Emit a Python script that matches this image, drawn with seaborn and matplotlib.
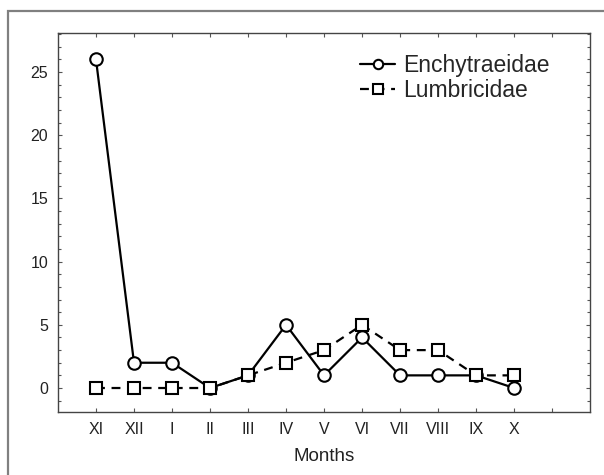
import numpy as np
import pandas as pd
import matplotlib
matplotlib.use("Agg")
import matplotlib.pyplot as plt
import seaborn as sns
from matplotlib.patches import Rectangle
from matplotlib.ticker import MultipleLocator, FixedLocator

# Data
months = ["XI", "XII", "I", "II", "III", "IV", "V", "VI", "VII", "VIII", "IX", "X"]
enchytraeidae = [26, 2, 2, 0, 1, 5, 1, 4, 1, 1, 1, 0]
lumbricidae = [0, 0, 0, 0, 1, 2, 3, 5, 3, 3, 1, 1]

idx = list(range(len(months)))
df = pd.concat([
    pd.DataFrame({"pos": idx, "value": enchytraeidae, "group": "Enchytraeidae"}),
    pd.DataFrame({"pos": idx, "value": lumbricidae, "group": "Lumbricidae"}),
])

sns.set_style("white")
plt.rcParams["font.family"] = ["Liberation Sans", "DejaVu Sans"]

fig = plt.figure(figsize=(6.04, 4.75), dpi=100)
ax = fig.add_axes([0.096, 0.1326, 0.881, 0.798])

sns.lineplot(data=df, x="pos", y="value", style="group",
             markers={"Enchytraeidae": "o", "Lumbricidae": "s"},
             dashes={"Enchytraeidae": "", "Lumbricidae": (4, 3)},
             color="black", markerfacecolor="white", markeredgecolor="black",
             markeredgewidth=1.5, markersize=9, linewidth=1.6, ax=ax)

ax.set_xlim(-1, 13)
ax.set_ylim(-1.9, 28.1)
ax.xaxis.set_major_locator(FixedLocator(range(13)))
ax.set_xticklabels(months + [""])
ax.yaxis.set_major_locator(MultipleLocator(5))
ax.yaxis.set_minor_locator(MultipleLocator(1))
ax.tick_params(axis="both", which="both", direction="in", top=True, right=True,
               left=True, bottom=True, color="#555555")
ax.tick_params(axis="both", which="major", length=3, width=0.8, labelsize=11.5,
               pad=7, labelcolor="#222222")
ax.tick_params(axis="y", which="minor", length=2, width=0.8)
for s in ax.spines.values():
    s.set_color("#444444")
    s.set_linewidth(1.0)

ax.set_xlabel("Months", fontsize=13.5, labelpad=8, color="#222222")
ax.set_ylabel("")

ax.legend(frameon=False, loc="upper right", bbox_to_anchor=(0.962, 1.0),
          fontsize=16.5, handlelength=1.5, handletextpad=0.35, labelspacing=0.1,
          markerscale=0.75)

# outer frame of the original figure
fig.patches.append(Rectangle((8 / 604, -0.05), 1.1, 0.977 + 0.05,
                             transform=fig.transFigure, fill=False,
                             edgecolor="#808080", linewidth=1.6))

fig.savefig("out.png", dpi=100)
